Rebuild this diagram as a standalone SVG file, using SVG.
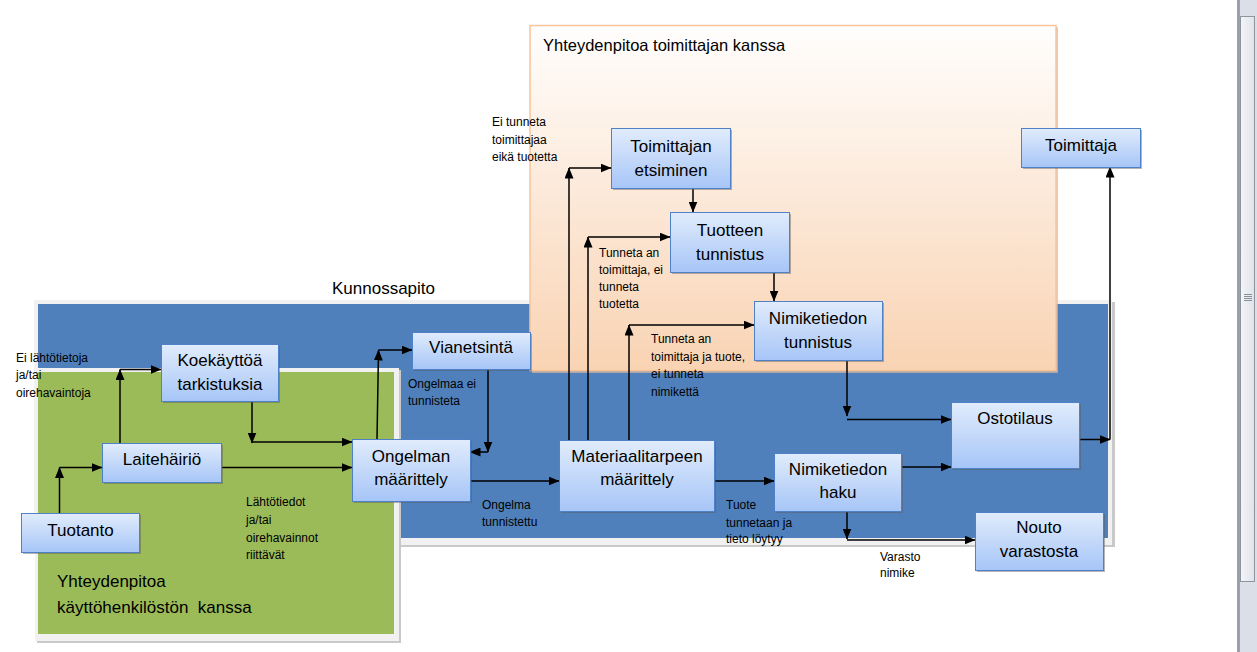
<svg xmlns="http://www.w3.org/2000/svg" width="1257" height="652" viewBox="0 0 1257 652">
<defs>
<linearGradient id="gNode" x1="0" y1="0" x2="0" y2="1">
<stop offset="0" stop-color="#e1ecfc"/>
<stop offset="1" stop-color="#a6c5f7"/>
</linearGradient>
<linearGradient id="gOrange" x1="0" y1="0" x2="0" y2="1">
<stop offset="0" stop-color="#fffefd"/>
<stop offset="1" stop-color="#f9d3b3"/>
</linearGradient>
<linearGradient id="gThumb" x1="0" y1="0" x2="1" y2="0">
<stop offset="0" stop-color="#f4f5f8"/>
<stop offset="1" stop-color="#dfe2ea"/>
</linearGradient>
<marker id="arr" markerUnits="userSpaceOnUse" markerWidth="11" markerHeight="9" viewBox="0 0 11 9" refX="10.5" refY="4.5" orient="auto">
<path d="M0,0 L11,4.5 L0,9 z" fill="#000"/>
</marker>
<style>
.node rect.b{fill:url(#gNode);stroke:#4f81c7;stroke-width:1}
.node rect.s{fill:#5a5a5a;opacity:0.45}
.nt{font-family:"Liberation Sans",Arial,sans-serif;font-size:17px;fill:#000;text-anchor:middle}
.lbl{font-family:"Liberation Sans",Arial,sans-serif;font-size:12px;fill:#000}
.title{font-family:"Liberation Sans",Arial,sans-serif;font-size:17px;fill:#000}
.conn path{fill:none;stroke:#000;stroke-width:1.5;marker-end:url(#arr)}
</style>
</defs>
<rect width="1257" height="652" fill="#ffffff"/>

<!-- scrollbar -->
<g id="scrollbar">
<rect x="1237" y="0" width="20" height="652" fill="#dbdfe8"/>
<rect x="1237" y="0" width="3" height="652" fill="#9a9fa8"/>
<rect x="1240.5" y="16.5" width="14" height="565" fill="url(#gThumb)" stroke="#8f959e" stroke-width="1"/>
<path d="M1244,294.5h8M1244,296.5h8M1244,298.5h8M1244,300.5h8" stroke="#8a9099" stroke-width="1"/>
</g>

<!-- Kunnossapito container -->
<g id="kunnossapito">
<rect x="36" y="302" width="1079" height="245" fill="#c9c9c9"/>
<rect x="34" y="300" width="1078" height="245" fill="#f1f1f1"/>
<rect x="38" y="304" width="1070" height="234" fill="#4f80bc"/>
<text class="title" x="332" y="294">Kunnossapito</text>
</g>

<!-- Green container -->
<g id="kayttohenkilosto">
<rect x="37" y="370" width="364" height="273" fill="#c9c9c9"/>
<rect x="35" y="368" width="364" height="273" fill="#f1f1f1"/>
<rect x="38" y="372" width="356" height="262" fill="#9bbb59"/>
<text class="title" x="57" y="587">Yhteydenpitoa</text>
<text class="title" x="57" y="613" xml:space="preserve">käyttöhenkilöstön  kanssa</text>
</g>

<!-- Orange container -->
<g id="toimittajayhteys">
<rect x="532" y="27" width="526" height="346" fill="#d9b9a0" opacity="0.7"/>
<rect x="530" y="25.5" width="526" height="345" fill="url(#gOrange)" stroke="#f8c49a" stroke-width="1.5"/>
<text class="title" x="543" y="51" style="font-size:16.5px">Yhteydenpitoa toimittajan kanssa</text>
</g>

<!-- connectors -->
<g id="connectors" class="conn">
<path d="M59.5,513 V467.5"/>
<path d="M59.5,467.5 H102"/>
<path d="M120,443 V369.5"/>
<path d="M120,369.5 H161"/>
<path d="M252,401 V443"/>
<path d="M252,442 H352"/>
<path d="M221,467.5 H352"/>
<path d="M377,439 L378.5,350"/>
<path d="M378.5,350 H412"/>
<path d="M488,369 V452"/>
<path d="M488,452 H470"/>
<path d="M470,481 H559"/>
<path d="M569,440 V168"/>
<path d="M569,168 H611"/>
<path d="M588,440 V237"/>
<path d="M588,237 H670"/>
<path d="M629,440 V325"/>
<path d="M629,325 H754"/>
<path d="M693,188 V212"/>
<path d="M774,272 V301"/>
<path d="M847,360 V416"/>
<path d="M847,419.5 H951"/>
<path d="M714,481 H774"/>
<path d="M901,467 H951"/>
<path d="M847,511 V539"/>
<path d="M847,540 H975"/>
<path d="M1079,439.5 H1110"/>
<path d="M1110,439.5 V167"/>
</g>

<!-- labels -->
<g id="labels" class="lbl">
<text x="16" y="362">Ei lähtötietoja</text>
<text x="16" y="379">ja/tai</text>
<text x="16" y="397">oirehavaintoja</text>
<text x="246" y="506">Lähtötiedot</text>
<text x="246" y="524">ja/tai</text>
<text x="246" y="542">oirehavainnot</text>
<text x="246" y="559">riittävät</text>
<text x="408" y="388">Ongelmaa ei</text>
<text x="408" y="405">tunnisteta</text>
<text x="482" y="509">Ongelma</text>
<text x="482" y="526">tunnistettu</text>
<text x="726" y="509">Tuote</text>
<text x="726" y="527">tunnetaan ja</text>
<text x="726" y="543">tieto löytyy</text>
<text x="880" y="561">Varasto</text>
<text x="880" y="577">nimike</text>
<text x="492" y="126">Ei tunneta</text>
<text x="492" y="144">toimittajaa</text>
<text x="492" y="161">eikä tuotetta</text>
<text x="599" y="257">Tunneta an</text>
<text x="599" y="274">toimittaja, ei</text>
<text x="599" y="291">tunneta</text>
<text x="599" y="308">tuotetta</text>
<text x="651" y="343">Tunneta an</text>
<text x="651" y="361">toimittaja ja tuote,</text>
<text x="651" y="378">ei tunneta</text>
<text x="651" y="396">nimikettä</text>
</g>

<!-- nodes -->
<g id="tuotanto" class="node">
<rect class="s" x="23" y="515" width="118" height="39"/>
<rect class="b" x="21.5" y="513.5" width="118" height="39"/>
<text class="nt" x="80.5" y="536">Tuotanto</text>
</g>
<g id="laitehairio" class="node">
<rect class="s" x="104" y="445" width="119" height="39"/>
<rect class="b" x="102.5" y="443.5" width="119" height="39"/>
<text class="nt" x="162" y="465">Laitehäiriö</text>
</g>
<g id="koekaytto" class="node">
<rect class="s" x="163" y="346" width="117" height="57"/>
<rect class="b" x="161.5" y="344.5" width="117" height="57"/>
<text class="nt" x="220" y="366">Koekäyttöä</text>
<text class="nt" x="220" y="390">tarkistuksia</text>
</g>
<g id="ongelman-maarittely" class="node">
<rect class="s" x="354" y="441" width="118" height="62"/>
<rect class="b" x="352.5" y="439.5" width="118" height="62"/>
<text class="nt" x="411" y="462">Ongelman</text>
<text class="nt" x="411" y="485">määrittely</text>
</g>
<g id="vianetsinta" class="node">
<rect class="s" x="414" y="334" width="118" height="37"/>
<rect class="b" x="412.5" y="332.5" width="118" height="37"/>
<text class="nt" x="471" y="353">Vianetsintä</text>
</g>
<g id="materiaalitarve" class="node">
<rect class="s" x="561" y="442" width="155" height="71"/>
<rect class="b" x="559.5" y="440.5" width="155" height="71"/>
<text class="nt" x="637" y="462">Materiaalitarpeen</text>
<text class="nt" x="637" y="485">määrittely</text>
</g>
<g id="nimiketiedon-haku" class="node">
<rect class="s" x="776" y="455" width="127" height="58"/>
<rect class="b" x="774.5" y="453.5" width="127" height="58"/>
<text class="nt" x="838" y="475">Nimiketiedon</text>
<text class="nt" x="838" y="498">haku</text>
</g>
<g id="ostotilaus" class="node">
<rect class="s" x="953" y="404" width="128" height="66"/>
<rect class="b" x="951.5" y="402.5" width="128" height="66"/>
<text class="nt" x="1015" y="424">Ostotilaus</text>
</g>
<g id="nouto" class="node">
<rect class="s" x="977" y="514" width="128" height="58"/>
<rect class="b" x="975.5" y="512.5" width="128" height="58"/>
<text class="nt" x="1039" y="533">Nouto</text>
<text class="nt" x="1039" y="557">varastosta</text>
</g>
<g id="toimittaja" class="node">
<rect class="s" x="1023" y="130" width="119" height="39"/>
<rect class="b" x="1021.5" y="128.5" width="119" height="39"/>
<text class="nt" x="1081" y="151">Toimittaja</text>
</g>
<g id="toimittajan-etsiminen" class="node">
<rect class="s" x="613" y="130" width="119" height="60"/>
<rect class="b" x="611.5" y="128.5" width="119" height="60"/>
<text class="nt" x="671" y="152">Toimittajan</text>
<text class="nt" x="671" y="176">etsiminen</text>
</g>
<g id="tuotteen-tunnistus" class="node">
<rect class="s" x="672" y="214" width="119" height="60"/>
<rect class="b" x="670.5" y="212.5" width="119" height="60"/>
<text class="nt" x="730" y="236">Tuotteen</text>
<text class="nt" x="730" y="260">tunnistus</text>
</g>
<g id="nimiketiedon-tunnistus" class="node">
<rect class="s" x="756" y="303" width="128" height="59"/>
<rect class="b" x="754.5" y="301.5" width="128" height="59"/>
<text class="nt" x="818" y="324">Nimiketiedon</text>
<text class="nt" x="818" y="348">tunnistus</text>
</g>
</svg>
